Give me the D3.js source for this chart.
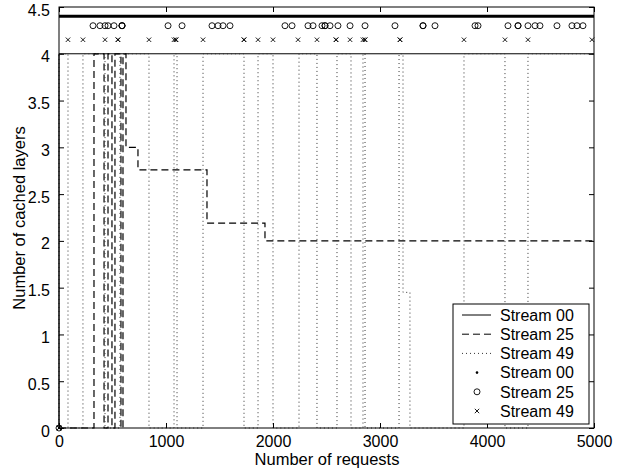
<!DOCTYPE html>
<html>
<head>
<meta charset="utf-8">
<script src="https://cdn.jsdelivr.net/npm/d3@7"></script>
<style>
  body { margin: 0; background: #fff; }
  text { font-family: "Liberation Sans", Arial, sans-serif; fill: #000; }
</style>
</head>
<body>
<div id="chart"></div>
<script>
// step series: request where the level changes, and the new level
const stream00Req = [0, 0, 5000];
const stream00Layers = [0, 4, 4];

const stream25Req = [0, 327, 421, 458, 495, 523, 579, 598, 626, 738, 1383, 1925, 5000];
const stream25Layers = [0, 4, 0, 4, 0, 4, 0, 4, 3, 2.76, 2.19, 2.0, 2.0];

const stream49Req = [0, 0, 84, 224, 430, 570, 841, 1075, 1103, 1346, 1729, 1860, 2000,
  2243, 2411, 2598, 2729, 2841, 2860, 3178, 3215, 3280, 3785, 4168, 4383, 5000];
const stream49Layers = [0, 4, 0, 4, 0, 4, 0, 4, 0, 4, 0, 4, 0,
  4, 0, 4, 0, 4, 0, 4, 1.45, 0, 4, 0, 4, 4];

// event markers
const stream00MarkRange = [0, 5000];   // dots so dense they form a band
const stream00MarkLevel = 4.4;
const stream25MarkReq = [318, 383, 430, 458, 514, 589, 589, 589, 1019, 1150, 1430, 1486, 1533, 1598,
  2112, 2178, 2327, 2374, 2458, 2486, 2486, 2533, 2607, 2720, 2860, 3140, 3402, 3402, 3514,
  3888, 3916, 4196, 4290, 4290, 4383, 4449, 4495, 4654, 4794, 4841, 4897];
const stream25MarkLevel = 4.3;
const stream49MarkReq = [84, 224, 430, 551, 551, 841, 1075, 1093, 1093, 1346, 1729, 1729, 1860, 2000,
  2234, 2411, 2589, 2589, 2720, 2841, 2860, 2860, 3187, 3187, 3785, 4168, 4383, 4981];
const stream49MarkLevel = 4.15;
const originMark = [0, 0];

const xTicks = [0, 1000, 2000, 3000, 4000, 5000];
const yTicks = [0, 0.5, 1, 1.5, 2, 2.5, 3, 3.5, 4, 4.5];
const legendLabels = ["Stream 00", "Stream 25", "Stream 49", "Stream 00", "Stream 25", "Stream 49"];

const width = 621, height = 468;
const svg = d3.select("#chart").append("svg").attr("width", width).attr("height", height);

const x = d3.scaleLinear().domain([0, 5000]).range([59, 594]);
const y = d3.scaleLinear().domain([0, 4.5]).range([428, 7]);

const stepLine = d3.line().x(d => x(d[0])).y(d => y(d[1])).curve(d3.curveStepAfter);
const zip = (a, b) => a.map((v, i) => [v, b[i]]);

const plot = svg.append("g");

// lines
plot.append("path").datum(zip(stream00Req, stream00Layers))
  .attr("d", stepLine).attr("fill", "none").attr("stroke", "#000").attr("stroke-width", 1);
plot.append("path").datum(zip(stream25Req, stream25Layers))
  .attr("d", stepLine).attr("fill", "none").attr("stroke", "#000").attr("stroke-width", 1.2)
  .attr("stroke-dasharray", "7,4");
plot.append("path").datum(zip(stream49Req, stream49Layers))
  .attr("d", stepLine).attr("fill", "none").attr("stroke", "#333").attr("stroke-width", 1)
  .attr("stroke-dasharray", "1,3");

// markers
plot.append("line")
  .attr("x1", x(stream00MarkRange[0])).attr("x2", x(stream00MarkRange[1]))
  .attr("y1", y(stream00MarkLevel)).attr("y2", y(stream00MarkLevel))
  .attr("stroke", "#000").attr("stroke-width", 3);

plot.selectAll("circle.s25").data(stream25MarkReq).enter().append("circle")
  .attr("class", "s25")
  .attr("cx", d => x(d)).attr("cy", y(stream25MarkLevel)).attr("r", 3)
  .attr("fill", "none").attr("stroke", "#000").attr("stroke-width", 0.9);

const cross = (g, cx, cy, s) => {
  g.append("path")
    .attr("d", `M${cx - s},${cy - s}L${cx + s},${cy + s}M${cx - s},${cy + s}L${cx + s},${cy - s}`)
    .attr("stroke", "#000").attr("stroke-width", 0.9).attr("fill", "none");
};
stream49MarkReq.forEach(d => cross(plot, x(d), y(stream49MarkLevel), 2.2));

// start point of all streams
plot.append("circle").attr("cx", x(originMark[0])).attr("cy", y(originMark[1])).attr("r", 3)
  .attr("fill", "none").attr("stroke", "#000").attr("stroke-width", 0.9);
cross(plot, x(originMark[0]), y(originMark[1]), 2.2);
plot.append("circle").attr("cx", x(originMark[0])).attr("cy", y(originMark[1])).attr("r", 1.2);

// axes box with inward ticks on all sides
const axes = svg.append("g");
axes.append("rect").attr("x", 59).attr("y", 7).attr("width", 535).attr("height", 421)
  .attr("fill", "none").attr("stroke", "#000").attr("stroke-width", 1);

const xb = axes.append("g").attr("transform", "translate(0,428)")
  .call(d3.axisBottom(x).tickValues(xTicks).tickSizeInner(-5).tickSizeOuter(0).tickPadding(8)
    .tickFormat(d3.format("d")));
const xt = axes.append("g").attr("transform", "translate(0,7)")
  .call(d3.axisTop(x).tickValues(xTicks).tickSizeInner(-5).tickSizeOuter(0).tickFormat(""));
const yl = axes.append("g").attr("transform", "translate(59,0)")
  .call(d3.axisLeft(y).tickValues(yTicks).tickSizeInner(-5).tickSizeOuter(0).tickPadding(9)
    .tickFormat(d3.format("")));
const yr = axes.append("g").attr("transform", "translate(594,0)")
  .call(d3.axisRight(y).tickValues(yTicks).tickSizeInner(-5).tickSizeOuter(0).tickFormat(""));

[xb, xt, yl, yr].forEach(g => {
  g.select(".domain").remove();
  g.selectAll(".tick line").attr("stroke", "#000");
  g.selectAll("text").attr("font-size", 16).attr("font-family", "Liberation Sans, Arial, sans-serif");
});
xb.selectAll("text").attr("dy", "0.71em");
yl.selectAll("text").attr("dy", "0.5em");

// axis titles
svg.append("text").attr("x", 327).attr("y", 465).attr("text-anchor", "middle")
  .attr("font-size", 16.5).text("Number of requests");
svg.append("text").attr("transform", "translate(25,218) rotate(-90)").attr("text-anchor", "middle")
  .attr("font-size", 16.5).text("Number of cached layers");

// legend
const leg = svg.append("g");
leg.append("rect").attr("x", 453).attr("y", 304).attr("width", 136).attr("height", 120)
  .attr("fill", "#fff").attr("stroke", "#000").attr("stroke-width", 1);
const rowY = i => 315 + i * 19.2;
const legStyles = [
  { stroke: "#000", dash: null },
  { stroke: "#000", dash: "7,4" },
  { stroke: "#333", dash: "1,3" }
];
legStyles.forEach((s, i) => {
  leg.append("line").attr("x1", 462).attr("x2", 491).attr("y1", rowY(i)).attr("y2", rowY(i))
    .attr("stroke", s.stroke).attr("stroke-width", 1).attr("stroke-dasharray", s.dash);
});
leg.append("circle").attr("cx", 477).attr("cy", rowY(3)).attr("r", 1.3);
leg.append("circle").attr("cx", 477).attr("cy", rowY(4)).attr("r", 3)
  .attr("fill", "none").attr("stroke", "#000").attr("stroke-width", 0.9);
cross(leg, 477, rowY(5), 2.2);
leg.selectAll("text.lab").data(legendLabels).enter().append("text")
  .attr("class", "lab").attr("x", 500).attr("y", (d, i) => rowY(i)).attr("dy", "0.36em")
  .attr("font-size", 16).text(d => d);
</script>
</body>
</html>
